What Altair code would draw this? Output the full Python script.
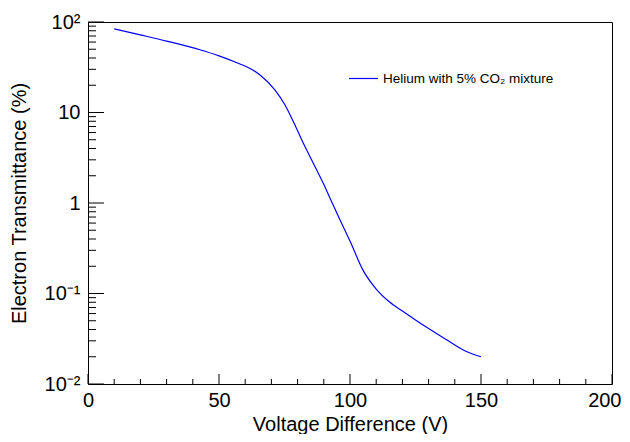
import altair as alt
import pandas as pd

# ---- data ----
voltage = [10, 20, 30, 43, 50, 58, 62, 66, 71.4, 75.2, 78.4, 82.2, 86, 89.8, 93, 96.2,
           100, 105, 110, 115, 120, 125, 130, 137, 144, 150]
transmittance = [84, 72, 61.5, 49.1, 42.3, 34.4, 30.5, 25.5, 17.7, 12.1, 7.9, 4.57,
                 2.75, 1.65, 1.03, 0.65, 0.38, 0.18, 0.112, 0.081, 0.064, 0.051,
                 0.041, 0.0306, 0.0232, 0.020]
series_name = "Helium with 5% CO\u2082 mixture"

x_major = [0, 50, 100, 150, 200]
x_minor = [10, 20, 30, 40, 60, 70, 80, 90, 110, 120, 130, 140, 160, 170, 180, 190]
y_major = [0.01, 0.1, 1, 10, 100]
y_minor = [0.02, 0.03, 0.04, 0.05, 0.06, 0.07, 0.08, 0.09,
           0.2, 0.3, 0.4, 0.5, 0.6, 0.7, 0.8, 0.9,
           2, 3, 4, 5, 6, 7, 8, 9,
           20, 30, 40, 50, 60, 70, 80, 90]

W, H = 524, 362
FONT = "Liberation Sans"

df = pd.DataFrame({"voltage": voltage, "trans": transmittance, "series": series_name})

xs = alt.Scale(domain=[0, 200], nice=False, zero=False)
ys = alt.Scale(type="log", domain=[0.01, 100], nice=False)

y_label_expr = ("datum.value > 50 ? '10\u00b2' : datum.value > 5 ? '10' : "
                "datum.value > 0.5 ? '1' : datum.value > 0.05 ? '10\u207b\u00b9' : '10\u207b\u00b2'")

x_axis = alt.Axis(values=x_major, title="Voltage Difference (V)", ticks=False, tickSize=0,
                  domain=False, grid=False, labelFontSize=20, labelFont=FONT,
                  labelColor="black", labelPadding=6, labelFlush=False,
                  labelAlign={"condition": {"test": "datum.value >= 200", "value": "right"},
                              "value": "center"},
                  labelOffset={"condition": {"test": "datum.value >= 200", "value": 9},
                               "value": 0},
                  titleFontSize=20, titleFont=FONT, titleFontWeight="normal",
                  titleColor="black", titleBaseline="alphabetic", titleY=46,
                  titleX=W / 2, titleAlign="center", format="d")
y_axis = alt.Axis(values=y_major, labelExpr=y_label_expr, title="Electron Transmittance (%)",
                  ticks=False, tickSize=0, domain=False, grid=False, labelFontSize=20,
                  labelFont=FONT, labelColor="black", labelPadding=8, labelFlush=False,
                  titleFontSize=20, titleFont=FONT, titleFontWeight="normal",
                  titleColor="black", titleBaseline="alphabetic", titleAngle=270,
                  titleX=-63, titleY=181, titleAlign="center")

line = alt.Chart(df).mark_line(strokeWidth=1.2, interpolate="monotone", clip=True).encode(
    x=alt.X("voltage:Q", scale=xs, axis=x_axis),
    y=alt.Y("trans:Q", scale=ys, axis=y_axis),
    color=alt.Color("series:N", scale=alt.Scale(range=["#0000ff"]),
                    legend=alt.Legend(title=None, orient="none", legendX=260, legendY=41,
                                      symbolType="stroke", symbolSize=841, symbolStrokeWidth=1.2,
                                      labelFont=FONT, labelFontSize=13.5, labelColor="black",
                                      labelOffset=4, padding=0, labelLimit=400)),
)

xmaj = alt.Chart(pd.DataFrame({"voltage": x_major})).mark_rule(color="black", strokeWidth=1).encode(
    x=alt.X("voltage:Q", scale=xs, axis=x_axis), y=alt.value(H), y2=alt.value(H - 10))
xmin = alt.Chart(pd.DataFrame({"voltage": x_minor})).mark_rule(color="black", strokeWidth=1).encode(
    x=alt.X("voltage:Q", scale=xs, axis=x_axis), y=alt.value(H), y2=alt.value(H - 5))
ymaj = alt.Chart(pd.DataFrame({"trans": y_major})).mark_rule(color="black", strokeWidth=1).encode(
    y=alt.Y("trans:Q", scale=ys, axis=y_axis), x=alt.value(0), x2=alt.value(16))
ymin = alt.Chart(pd.DataFrame({"trans": y_minor})).mark_rule(color="black", strokeWidth=1).encode(
    y=alt.Y("trans:Q", scale=ys, axis=y_axis), x=alt.value(0), x2=alt.value(8))

chart = alt.layer(line, xmin, xmaj, ymin, ymaj).properties(
    width=W, height=H, autosize="none",
    padding={"left": 80, "top": 14, "right": 10, "bottom": 50},
    background="white",
).configure_view(stroke="black", strokeWidth=1)

chart.save("out.html", embed_options={"renderer": "svg", "actions": False})
